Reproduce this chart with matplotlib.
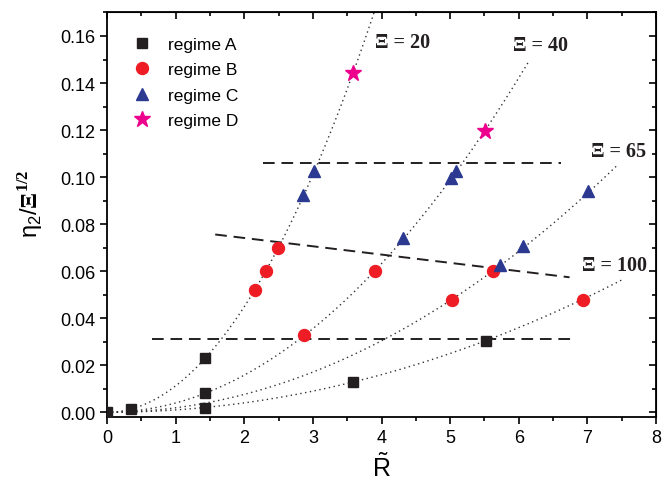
import numpy as np
import matplotlib
matplotlib.use("Agg")
import matplotlib.pyplot as plt
from matplotlib.ticker import MultipleLocator

plt.rcParams['font.family'] = ['Liberation Sans', 'DejaVu Sans']
plt.rcParams['mathtext.fontset'] = 'custom'
plt.rcParams['mathtext.rm'] = 'Liberation Sans'
plt.rcParams['mathtext.it'] = 'Liberation Sans:italic'
plt.rcParams['mathtext.bf'] = 'Liberation Serif:bold'

# ---- data ----
regA_x = [0.0, 0.35, 1.43, 1.43, 1.43, 3.59, 5.52]
regA_y = [0.0, 0.0013, 0.0231, 0.0081, 0.0018, 0.0128, 0.0305]
regB_x = [2.155, 2.32, 2.495, 2.87, 3.91, 5.02, 5.62, 6.93]
regB_y = [0.0518, 0.0601, 0.0699, 0.0328, 0.0601, 0.0478, 0.0601, 0.0478]
regC_x = [2.86, 3.02, 4.31, 5.01, 5.09, 5.72, 6.06, 7.01]
regC_y = [0.0925, 0.1028, 0.0741, 0.0997, 0.1028, 0.0627, 0.0709, 0.0943]
regD_x = [3.59, 5.51]
regD_y = [0.1444, 0.1198]

# fitted curves  y = a * R^2 for each Xi
xi_values = [20, 40, 65, 100]
curve_coef = [0.01122, 0.00395, 0.0019, 0.0010]
curve_xend = [3.95, 6.15, 7.44, 7.52]
label_x = [3.91, 5.91, 7.05, 6.92]
label_y = [0.1574, 0.1560, 0.1113, 0.0627]

# dashed boundary lines
dash_x = [[2.28, 6.61], [1.577, 6.74], [0.655, 6.76]]
dash_y = [[0.1062, 0.1062], [0.0756, 0.0574], [0.0313, 0.0313]]

fig = plt.figure(figsize=(6.62, 4.81), dpi=100)
ax = fig.add_axes([0.1616, 0.131, 0.8294, 0.841])

for a, xe in zip(curve_coef, curve_xend):
    xs = np.linspace(0, xe, 200)
    ax.plot(xs, a * xs**2, linestyle=(0, (1, 2.5)), color='#333333', lw=1.0, zorder=1)

for xx, yy in zip(dash_x, dash_y):
    ax.plot(xx, yy, linestyle=(0, (6, 3.5)), color='#231f20', lw=1.4, zorder=2)

ax.plot(regA_x, regA_y, 's', color='#231f20', ms=7.7, ls='none', label='regime A', zorder=3)
ax.plot(regB_x, regB_y, 'o', color='#ee1c24', ms=8.6, ls='none', label='regime B', zorder=3)
ax.plot(regC_x, regC_y, '^', color='#2b3990', ms=9, ls='none', label='regime C', zorder=3)
ax.plot(regD_x, regD_y, '*', color='#ec008c', ms=12, ls='none', label='regime D', zorder=3)

for xi, lx, ly in zip(xi_values, label_x, label_y):
    ax.text(lx, ly, '\u039e = %d' % xi, fontsize=14.5, fontweight='bold',
            family=['Liberation Serif', 'DejaVu Serif'], va='center', ha='left',
            color='#231f20')

ax.set_xlim(0, 8)
ax.set_ylim(-0.002, 0.17)
ax.xaxis.set_major_locator(MultipleLocator(1))
ax.xaxis.set_minor_locator(MultipleLocator(0.5))
ax.yaxis.set_major_locator(MultipleLocator(0.02))
ax.yaxis.set_minor_locator(MultipleLocator(0.01))
ax.yaxis.set_major_formatter(matplotlib.ticker.FormatStrFormatter('%.2f'))
ax.tick_params(which='both', direction='out', labelsize=13, width=1.2)
ax.tick_params(which='major', length=5)
ax.tick_params(which='minor', length=3)
for s in ax.spines.values():
    s.set_linewidth(1.3)

secx = ax.secondary_xaxis('top')
secx.xaxis.set_major_locator(MultipleLocator(1))
secx.xaxis.set_minor_locator(MultipleLocator(0.5))
secx.tick_params(which='both', direction='in', labeltop=False, width=1.2)
secx.tick_params(which='major', length=5)
secx.tick_params(which='minor', length=3)
secy = ax.secondary_yaxis('right')
secy.yaxis.set_major_locator(MultipleLocator(0.02))
secy.yaxis.set_minor_locator(MultipleLocator(0.01))
secy.tick_params(which='both', direction='in', labelright=False, width=1.2)
secy.tick_params(which='major', length=5)
secy.tick_params(which='minor', length=3)

ax.set_xlabel(r'$\tilde{\mathrm{R}}$', fontsize=18, labelpad=5)
ax.set_ylabel(r'$\mathrm{\eta}_2/\mathbf{\Xi}^{\mathbf{1/2}}$', fontsize=17)
ax.yaxis.set_label_coords(-0.112, 0.53)

ax.legend(loc='upper left', bbox_to_anchor=(0.02, 0.975), frameon=False, fontsize=12.5,
          numpoints=1, handlelength=1.2, handletextpad=0.9, labelspacing=0.6, borderpad=0.3)

fig.savefig('out.png', dpi=100)
